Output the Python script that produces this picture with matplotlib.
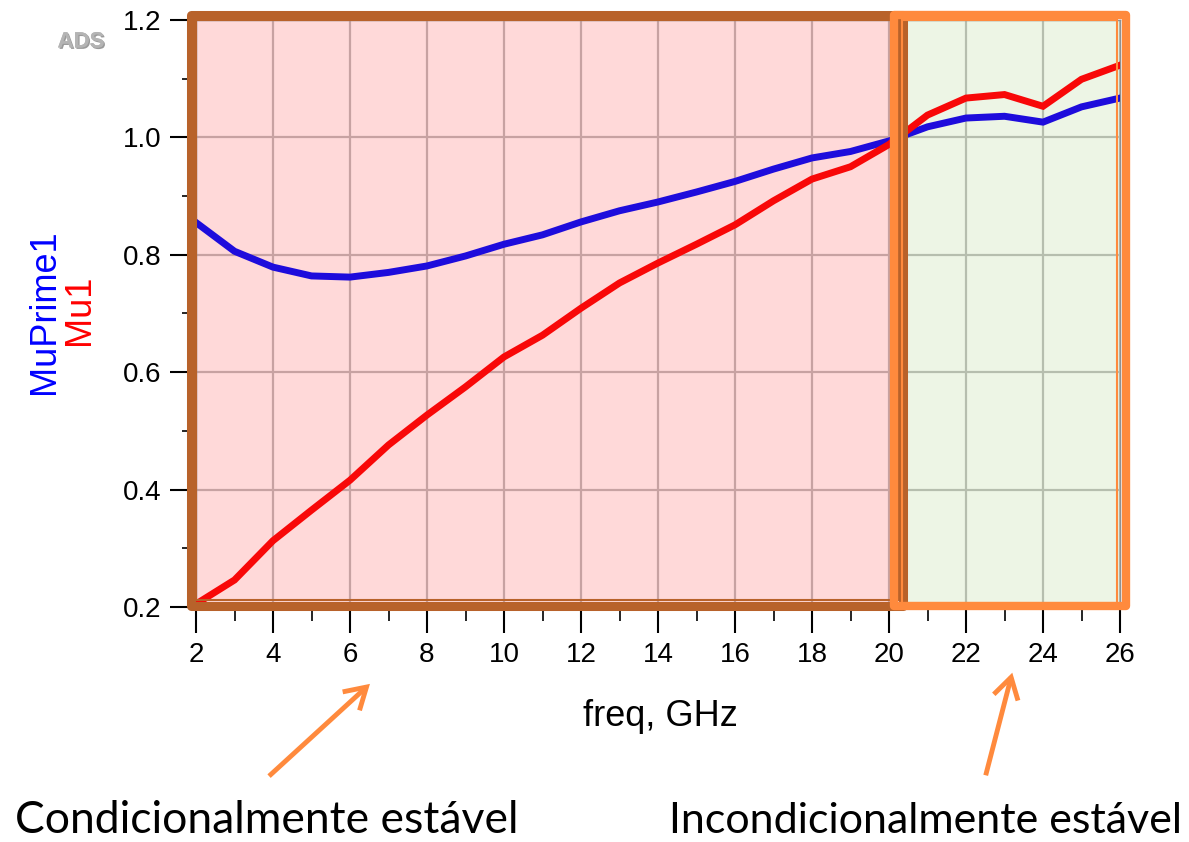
import matplotlib
matplotlib.use('Agg')
import matplotlib.pyplot as plt
from matplotlib.patches import Rectangle, FancyArrowPatch
from matplotlib.ticker import MultipleLocator, FormatStrFormatter
import matplotlib.patheffects as pe

# ---- data ----
freq = [2, 3, 4, 5, 6, 7, 8, 9, 10, 11, 12, 13, 14, 15, 16, 17, 18, 19, 20,
        21, 22, 23, 24, 25, 26]
mu_prime1 = [0.855, 0.806, 0.779, 0.764, 0.762, 0.770, 0.781, 0.798, 0.818,
             0.834, 0.856, 0.875, 0.890, 0.907, 0.925, 0.946, 0.965, 0.976,
             0.994, 1.018, 1.033, 1.036, 1.026, 1.052, 1.067]
mu1 = [0.205, 0.246, 0.313, 0.365, 0.416, 0.476, 0.527, 0.575, 0.626, 0.663,
       0.709, 0.752, 0.786, 0.818, 0.851, 0.892, 0.929, 0.950, 0.988, 1.038,
       1.067, 1.073, 1.053, 1.099, 1.123]
x_ticks = [2, 4, 6, 8, 10, 12, 14, 16, 18, 20, 22, 24, 26]
y_ticks = [0.2, 0.4, 0.6, 0.8, 1.0, 1.2]
split_freq = 20.25   # boundary between the two highlighted regions
label_left = 'Condicionalmente estável'
label_right = 'Incondicionalmente estável'

W, H = 1189, 842
fig = plt.figure(figsize=(W / 100, H / 100), dpi=100)
ax = fig.add_axes([196 / W, 1 - 607 / H, (1120 - 196) / W, (607 - 20) / H])
ax.set_xlim(2, 26)
ax.set_ylim(0.2, 1.2)
ax.set_xticks(x_ticks)
ax.set_yticks(y_ticks)
ax.xaxis.set_minor_locator(MultipleLocator(1))
ax.yaxis.set_minor_locator(MultipleLocator(0.1))
ax.yaxis.set_major_formatter(FormatStrFormatter('%.1f'))
ax.set_axisbelow(True)
ax.grid(True, which='major', color='#B0B0B0', lw=1.6)
for lab in ax.get_xticklabels() + ax.get_yticklabels():
    lab.set_family('Liberation Sans')
ax.tick_params(which='major', length=19, width=1.5, labelsize=20, pad=6)
ax.tick_params(which='minor', length=10, width=1.2)
for s in ax.spines.values():
    s.set_color('#909090')
    s.set_linewidth(1)

# region fills
ax.add_patch(Rectangle((2, 0.2), split_freq - 2, 1.0, facecolor=(1, 0.517, 0.517),
                       alpha=0.3, edgecolor='none', zorder=1))
ax.add_patch(Rectangle((split_freq, 0.2), 26 - split_freq, 1.0,
                       facecolor=(0.777, 0.883, 0.673), alpha=0.3,
                       edgecolor='none', zorder=1))

ax.plot(freq, mu_prime1, color='#1E0CDC', lw=5, zorder=3, solid_joinstyle='miter')
ax.plot(freq, mu1, color='#F80808', lw=5, zorder=3, solid_joinstyle='miter')

brown = '#B8622A'
orange = '#FF8A3D'
# brown box
ax.add_patch(Rectangle((1.87, 0.2017), split_freq + 0.11 - 1.87, 1.2085 - 0.2017,
                       fill=False, edgecolor=brown, lw=6.5, joinstyle='round',
                       clip_on=False, zorder=4))
ax.add_patch(Rectangle((2, 0.212), split_freq - 2, 1.2 - 0.212,
                       fill=False, edgecolor=brown, lw=1.5, clip_on=False, zorder=4))
# orange box
ax.add_patch(Rectangle((split_freq - 0.12, 0.2017), 26.16 - split_freq + 0.12,
                       1.2085 - 0.2017, fill=False, edgecolor=orange, lw=6,
                       joinstyle='round', clip_on=False, zorder=5))
ax.add_patch(Rectangle((split_freq + 0.1, 0.207), 25.92 - split_freq - 0.1, 1.2 - 0.207,
                       fill=False, edgecolor=orange, lw=1.5, clip_on=False, zorder=5))

# axis labels
fig.text(45 / W, 1 - 312 / H, 'MuPrime1', rotation=90, color='#0000FF', fontsize=26,
         family='Liberation Sans', ha='center', va='center')
fig.text(80 / W, 1 - 310 / H, 'Mu1', rotation=90, color='#FF0000', fontsize=26,
         family='Liberation Sans', ha='center', va='center')
fig.text(660 / W, 1 - 716 / H, 'freq, GHz', fontsize=26, family='Liberation Sans',
         ha='center', va='center')
fig.text(81 / W, 1 - 42 / H, 'ADS', fontsize=16, weight='bold', color='#B4B4B4',
         family='Liberation Sans', ha='center', va='center',
         path_effects=[pe.withSimplePatchShadow(offset=(1, -1), shadow_rgbFace='#707070',
                                                alpha=0.7), pe.Normal()])

# annotations
for (x0, y0), (x1, y1) in [((267, 778), (372, 682)), ((985, 778), (1013, 670))]:
    fig.add_artist(FancyArrowPatch((x0 / W, 1 - y0 / H), (x1 / W, 1 - y1 / H),
                                   transform=fig.transFigure,
                                   arrowstyle='->,head_length=0.5,head_width=0.3',
                                   mutation_scale=30, lw=3.5, color=orange,
                                   capstyle='butt', joinstyle='miter'))
fig.text(15 / W, 1 - 833 / H, label_left, fontsize=32, family='Lato',
         ha='left', va='baseline')
fig.text(1182 / W, 1 - 833 / H, label_right, fontsize=31, family='Lato',
         ha='right', va='baseline')

fig.savefig('out.png', dpi=100)
